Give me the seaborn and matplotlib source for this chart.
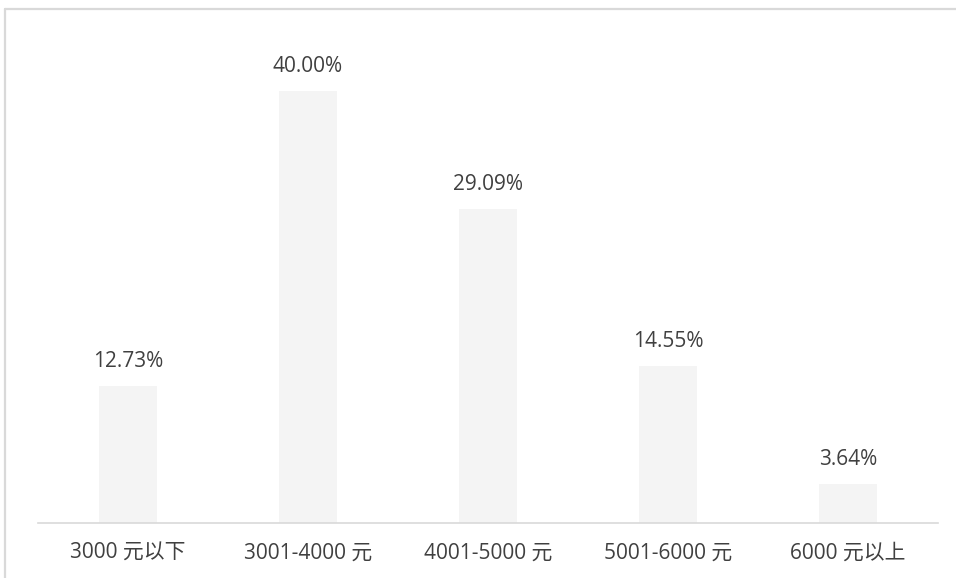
import matplotlib
matplotlib.use("Agg")
import matplotlib.pyplot as plt
from matplotlib.lines import Line2D
import seaborn as sns
import pandas as pd

categories = ["3000 元以下", "3001-4000 元", "4001-5000 元", "5001-6000 元", "6000 元以上"]
shares = [12.73, 40.00, 29.09, 14.55, 3.64]

sns.set_theme(style="white")
plt.rcParams["font.family"] = ["Open Sans", "Noto Sans CJK SC", "DejaVu Sans"]

df = pd.DataFrame({"category": categories, "share": shares})

W, H = 956, 578
fig = plt.figure(figsize=(W / 100, H / 100), dpi=100)
ax = fig.add_axes([38 / W, 1 - 523 / H, 900 / W, (523 - 37) / H])

sns.barplot(data=df, x="category", y="share", color="#f4f4f4", width=0.322,
            saturation=1, ax=ax, edgecolor="none")

ax.set_xlim(-0.5, len(categories) - 0.5)
ax.set_ylim(0, 45)
for c in ax.containers:
    ax.bar_label(c, labels=[f"{v:.2f}%" for v in shares], padding=10,
                 fontsize=15, color="#404040")

ax.set_xlabel("")
ax.set_ylabel("")
ax.set_yticks([])
ax.tick_params(axis="x", length=0, pad=14, labelsize=15, labelcolor="#404040")
for side in ["top", "right", "left"]:
    ax.spines[side].set_visible(False)
ax.spines["bottom"].set_color("#d9d9d9")
ax.spines["bottom"].set_linewidth(1.2)

# chart frame: top and left edges
fig.add_artist(Line2D([4.5 / W, 1], [1 - 8.5 / H, 1 - 8.5 / H],
                      transform=fig.transFigure, color="#d9d9d9", lw=1.6))
fig.add_artist(Line2D([4.5 / W, 4.5 / W], [0, 1 - 8.5 / H],
                      transform=fig.transFigure, color="#d9d9d9", lw=1.6))

fig.savefig("out.png", dpi=100)
